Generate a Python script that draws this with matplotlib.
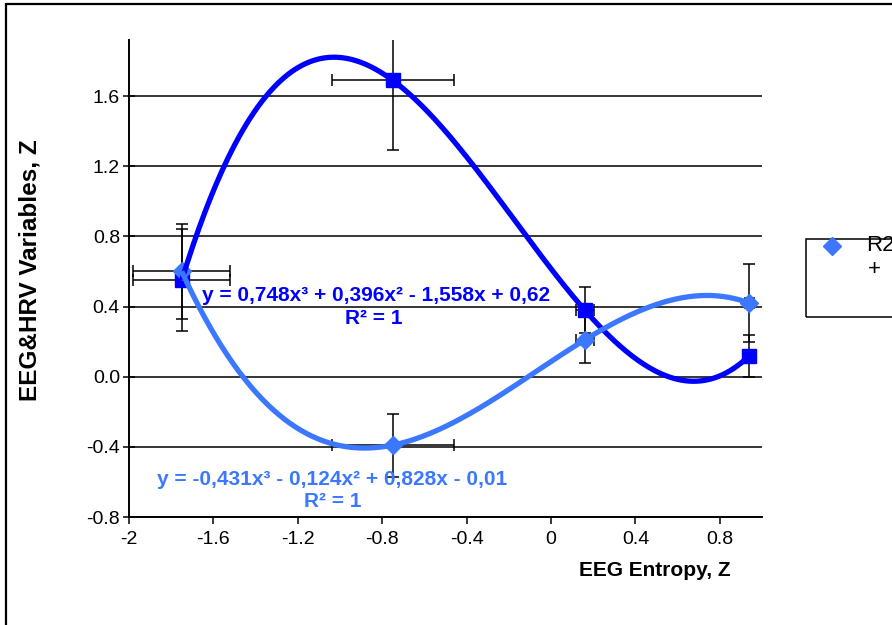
import numpy as np
import matplotlib
matplotlib.use("Agg")
import matplotlib.pyplot as plt
from matplotlib.patches import Rectangle
from matplotlib.lines import Line2D

plt.rcParams['font.family'] = ['Liberation Sans', 'DejaVu Sans']

# data
entropy_x = [-1.75, -0.75, 0.16, 0.94]
x_err = [0.23, 0.29, 0.043, 0.02]

sq_y = [0.55, 1.69, 0.38, 0.12]
sq_yerr = [0.29, 0.40, 0.13, 0.12]

dm_y = [0.60, -0.39, 0.21, 0.42]
dm_yerr = [0.27, 0.18, 0.13, 0.22]

sq_eq = "y = 0,748x³ + 0,396x² - 1,558x + 0,62"
dm_eq = "y = -0,431x³ - 0,124x² + 0,828x - 0,01"
r2_text = "R² = 1"

xticks = [-2, -1.6, -1.2, -0.8, -0.4, 0, 0.4, 0.8]
xtick_labels = ['-2', '-1.6', '-1.2', '-0.8', '-0.4', '0', '0.4', '0.8']
yticks = [-0.8, -0.4, 0.0, 0.4, 0.8, 1.2, 1.6]

dark = '#0000FF'
light = '#3C78FF'

fig = plt.figure(figsize=(8.92, 6.25), dpi=100)
ax = fig.add_axes([129 / 892, 1 - 517 / 625, (762 - 129) / 892, (517 - 40) / 625])

ax.set_xlim(-2, 1)
ax.set_ylim(-0.8, 1.92)

for yv in yticks:
    ax.axhline(yv, color='black', lw=1.1, zorder=1)

# error bars
ax.errorbar(entropy_x, sq_y, xerr=x_err, yerr=sq_yerr, fmt='none', ecolor='black',
            elinewidth=1.1, capsize=4, capthick=1.1, zorder=2)
ax.errorbar(entropy_x, dm_y, xerr=x_err, yerr=dm_yerr, fmt='none', ecolor='black',
            elinewidth=1.1, capsize=4, capthick=1.1, zorder=2)

# markers
ax.plot(entropy_x, sq_y, 's', color=dark, ms=10, zorder=3)
ax.plot(entropy_x, dm_y, 'D', color=light, ms=9.5, zorder=3)

# cubic trendlines
xs = np.linspace(min(entropy_x), max(entropy_x), 300)
ax.plot(xs, np.polyval(np.polyfit(entropy_x, sq_y, 3), xs), color=dark, lw=3.8, zorder=4,
        solid_capstyle='butt')
ax.plot(xs, np.polyval(np.polyfit(entropy_x, dm_y, 3), xs), color=light, lw=3.8, zorder=4,
        solid_capstyle='butt')

eq_kw = dict(fontsize=15, fontweight='bold', ha='center', va='center', zorder=5)
ax.text(-0.829, 0.463, sq_eq, color=dark, **eq_kw)
ax.text(-0.838, 0.331, r2_text, color=dark, **eq_kw)
ax.text(-1.038, -0.589, dm_eq, color=light, **eq_kw)
ax.text(-1.033, -0.709, r2_text, color=light, **eq_kw)

ax.set_xticks(xticks)
ax.set_xticklabels(xtick_labels)
ax.set_yticks(yticks)
ax.set_yticklabels([f'{v:.1f}' for v in yticks])
ax.tick_params(axis='x', direction='out', length=5, width=1.1, labelsize=14, pad=5)
ax.tick_params(axis='y', direction='inout', length=9, width=1.1, labelsize=14, pad=2)

for s in ['top', 'right']:
    ax.spines[s].set_visible(False)
for s in ['left', 'bottom']:
    ax.spines[s].set_linewidth(1.4)

fig.text(655 / 892, 1 - 570 / 625, 'EEG Entropy, Z', fontsize=15, fontweight='bold',
         ha='center', va='center')
fig.text(30 / 892, 1 - 270 / 625, 'EEG&HRV Variables, Z', fontsize=17.5, fontweight='bold',
         ha='center', va='center', rotation=90)

# outer frame
fig.add_artist(Rectangle((6 / 892, -0.1), 1.2, 1 - 4 / 625 + 0.1, transform=fig.transFigure,
                         fill=False, ec='black', lw=1.6))

# legend (clipped at the right edge)
fig.add_artist(Rectangle((806 / 892, 1 - 317 / 625), 0.2, 78 / 625, transform=fig.transFigure,
                         fill=False, ec='black', lw=1.1))
fig.add_artist(Line2D([832 / 892], [1 - 246 / 625], marker='D', color=light, ms=9.5,
                      transform=fig.transFigure, ls='none'))
fig.text(866 / 892, 1 - 246 / 625, 'R2', fontsize=16, ha='left', va='center')
fig.text(868 / 892, 1 - 270 / 625, '+', fontsize=16, ha='left', va='center')

fig.savefig('out.png', dpi=100)
